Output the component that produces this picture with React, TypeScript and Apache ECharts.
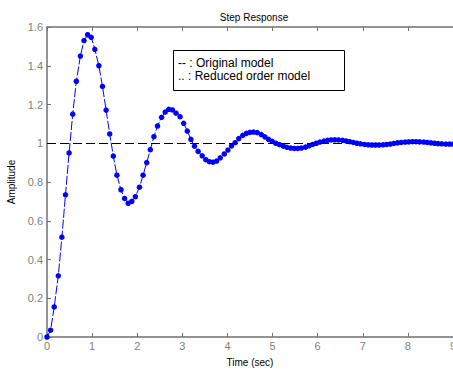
import React, { useEffect, useRef } from "react";
import * as echarts from "echarts";

const times = [
  0, 0.08, 0.16, 0.25, 0.33, 0.41, 0.49, 0.57, 0.65, 0.74,
  0.82, 0.9, 0.98, 1.06, 1.15, 1.23, 1.31, 1.39, 1.47, 1.55,
  1.64, 1.72, 1.8, 1.88, 1.96, 2.05, 2.13, 2.21, 2.29, 2.37,
  2.45, 2.54, 2.62, 2.7, 2.78, 2.86, 2.95, 3.03, 3.11, 3.19,
  3.27, 3.35, 3.44, 3.52, 3.6, 3.68, 3.76, 3.84, 3.93, 4.01,
  4.09, 4.17, 4.25, 4.34, 4.42, 4.5, 4.58, 4.66, 4.75, 4.83,
  4.91, 4.99, 5.07, 5.15, 5.24, 5.32, 5.4, 5.48, 5.56, 5.64,
  5.73, 5.81, 5.89, 5.97, 6.05, 6.14, 6.22, 6.3, 6.38, 6.46,
  6.55, 6.63, 6.71, 6.79, 6.87, 6.95, 7.04, 7.12, 7.2, 7.28,
  7.36, 7.45, 7.53, 7.61, 7.69, 7.77, 7.85, 7.94, 8.02, 8.1,
  8.18, 8.26, 8.35, 8.43, 8.51, 8.59, 8.67, 8.75, 8.84, 8.92,
  9.0,
];

const originalModel = [
  0, 0.035, 0.155, 0.316, 0.515, 0.734, 0.95, 1.15, 1.32, 1.45,
  1.53, 1.56, 1.547, 1.485, 1.4, 1.293, 1.171, 1.048, 0.934, 0.835,
  0.76, 0.715, 0.69, 0.7, 0.724, 0.773, 0.835, 0.9, 0.967, 1.034,
  1.089, 1.134, 1.161, 1.175, 1.172, 1.155, 1.137, 1.103, 1.063, 1.02,
  0.985, 0.958, 0.935, 0.915, 0.905, 0.902, 0.908, 0.925, 0.945, 0.965,
  0.986, 1.003, 1.024, 1.041, 1.051, 1.056, 1.058, 1.055, 1.045, 1.033,
  1.02, 1.01, 1.0, 0.993, 0.985, 0.979, 0.975, 0.973, 0.973, 0.975,
  0.98, 0.987, 0.994, 1.0, 1.006, 1.011, 1.015, 1.017, 1.018, 1.017,
  1.015, 1.012, 1.008, 1.004, 1.0, 0.997, 0.994, 0.992, 0.991, 0.991,
  0.991, 0.992, 0.994, 0.996, 0.999, 1.002, 1.004, 1.006, 1.007, 1.008,
  1.008, 1.007, 1.006, 1.004, 1.002, 1.0, 0.998, 0.997, 0.996, 0.996,
  0.996,
];

const reducedModel = originalModel;

const referenceLevel = [1];
const xRange = [0, 9];
const yRange = [0, 1.6];
const legendLines = ["-- : Original model", ".. : Reduced order model"];

const FONT = "'Liberation Sans', Arial, Helvetica, sans-serif";

export default function App() {
  const ref = useRef<HTMLDivElement>(null);

  useEffect(() => {
    if (!ref.current) return;
    const chart = echarts.init(ref.current, undefined, { renderer: "svg" });
    const pairs = (ys: number[]) => times.map((t, i) => [t, ys[i]]);
    const axisLine = { show: true, lineStyle: { color: "#707070", width: 1.5 } };
    chart.setOption({
      animation: false,
      backgroundColor: "#ffffff",
      title: {
        text: "Step Response",
        left: 249,
        top: 7,
        textAlign: "center",
        textStyle: { fontSize: 10, fontWeight: "normal", color: "#000", fontFamily: FONT },
      },
      grid: { left: 47, top: 27, right: 0, bottom: 33, containLabel: false, outerBoundsMode: "none" },
      xAxis: [
        {
          type: "value",
          min: xRange[0],
          max: xRange[1],
          interval: 1,
          position: "bottom",
          name: "Time (sec)",
          nameLocation: "middle",
          nameGap: 20,
          nameTextStyle: { fontSize: 10, color: "#000", fontFamily: FONT },
          axisLine,
          axisTick: { show: true, inside: true, length: 4, lineStyle: { color: "#707070" } },
          axisLabel: { color: "#808080", fontSize: 11, margin: 3, fontFamily: FONT, hideOverlap: false },
          splitLine: { show: false },
        },
        {
          type: "value",
          min: xRange[0],
          max: xRange[1],
          interval: 1,
          position: "top",
          axisLine,
          axisTick: { show: true, inside: true, length: 4, lineStyle: { color: "#707070" } },
          axisLabel: { show: false },
          splitLine: { show: false },
        },
      ],
      yAxis: [
        {
          type: "value",
          min: yRange[0],
          max: yRange[1],
          interval: 0.2,
          name: "Amplitude",
          nameLocation: "middle",
          nameGap: 31,
          nameTextStyle: { fontSize: 10, color: "#000", fontFamily: FONT },
          axisLine,
          axisTick: { show: true, inside: true, length: 4, lineStyle: { color: "#707070" } },
          axisLabel: {
            color: "#808080",
            fontSize: 11,
            margin: 4,
            fontFamily: FONT,
            formatter: (v: number) => String(Math.round(v * 10) / 10),
          },
          splitLine: { show: false },
        },
      ],
      series: [
        {
          name: "Original model",
          type: "line",
          data: pairs(originalModel),
          showSymbol: false,
          symbol: "none",
          lineStyle: { color: "#0000ff", width: 1, type: [9, 2] },
          markLine: {
            silent: true,
            symbol: "none",
            label: { show: false },
            lineStyle: { color: "#000", width: 1, type: [9, 4] },
            data: referenceLevel.map((v) => ({ yAxis: v })),
          },
          z: 2,
        },
        {
          name: "Reduced order model",
          type: "scatter",
          data: pairs(reducedModel),
          symbol: "circle",
          symbolSize: 5.5,
          itemStyle: { color: "#0000ff", opacity: 1 },
          z: 3,
        },
      ],
      graphic: [
        {
          type: "rect",
          shape: { x: 173.5, y: 50.5, width: 171, height: 40 },
          style: { fill: "#fff", stroke: "#000", lineWidth: 1 },
          z: 10,
        },
        {
          type: "text",
          x: 178,
          y: 63,
          style: {
            text: legendLines[0],
            fontSize: 12,
            fontFamily: FONT,
            fill: "#000",
            verticalAlign: "middle",
          },
          z: 11,
        },
        {
          type: "text",
          x: 178,
          y: 76,
          style: {
            text: legendLines[1],
            fontSize: 12,
            fontFamily: FONT,
            fill: "#000",
            verticalAlign: "middle",
          },
          z: 11,
        },
      ],
    });
    return () => chart.dispose();
  }, []);

  return (
    <div style={{ position: "fixed", left: 0, top: 0, width: 453, height: 370, overflow: "hidden", background: "#fff" }}>
      <div ref={ref} style={{ width: 453, height: 370 }} />
    </div>
  );
}
